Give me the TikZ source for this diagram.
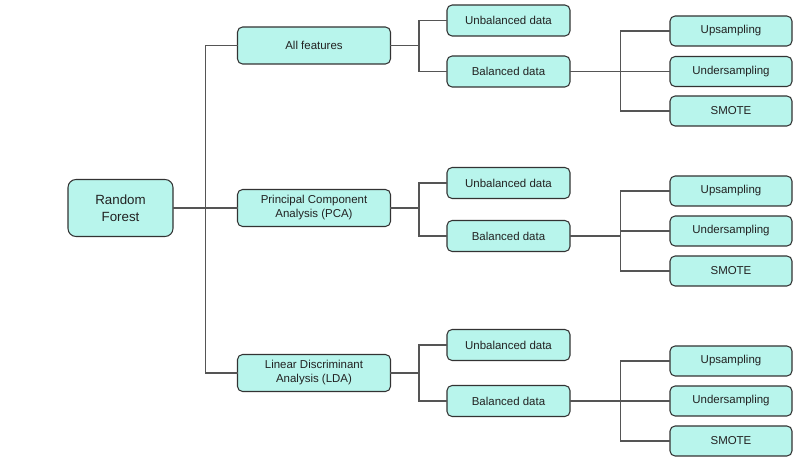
\documentclass[tikz,border=0pt]{standalone}
\usepackage{fontspec}
\setmainfont{Liberation Sans}
\definecolor{boxfill}{HTML}{B8F5EC}
\definecolor{boxline}{HTML}{333333}
\definecolor{wire}{HTML}{555555}
\definecolor{ink}{HTML}{222222}
\tikzset{
  box/.style={draw=boxline, fill=boxfill, line width=0.8pt, rounded corners=3.8pt,
    inner sep=0pt, align=center, text=ink, font=\fontsize{8.6}{10.5}\selectfont},
  rootbox/.style={box, minimum width=78.75pt, minimum height=42.75pt, rounded corners=6pt,
    font=\fontsize{10}{12.5}\selectfont},
  featbox/.style={box, minimum width=114.75pt, minimum height=27.75pt},
  databox/.style={box, minimum width=92.25pt, minimum height=23.25pt},
  sampbox/.style={box, minimum width=91.5pt, minimum height=22.5pt},
  conn/.style={draw=wire, line width=1.2pt, line cap=rect}
}
\begin{document}
\begin{tikzpicture}[x=0.75pt, y=-0.75pt]
\useasboundingbox (0,0) rectangle (800,466);

% root
\node[rootbox] (rf) at (120.5,208) {Random\\Forest};

% feature sets
\node[featbox] (af)  at (314,45.5) {All features};
\node[featbox] (pca) at (314,208)  {Principal Component\\Analysis (PCA)};
\node[featbox] (lda) at (314,373)  {Linear Discriminant\\Analysis (LDA)};

% data variants
\node[databox] (u1) at (508.5,20.5) {Unbalanced data};
\node[databox] (b1) at (508.5,71.5) {Balanced data};
\node[databox] (u2) at (508.5,183)  {Unbalanced data};
\node[databox] (b2) at (508.5,236)  {Balanced data};
\node[databox] (u3) at (508.5,345)  {Unbalanced data};
\node[databox] (b3) at (508.5,401)  {Balanced data};

% resampling methods
\node[sampbox] (up1) at (731,31)   {Upsampling};
\node[sampbox] (dn1) at (731,71.5) {Undersampling};
\node[sampbox] (sm1) at (731,111)  {SMOTE};
\node[sampbox] (up2) at (731,191)  {Upsampling};
\node[sampbox] (dn2) at (731,231)  {Undersampling};
\node[sampbox] (sm2) at (731,271)  {SMOTE};
\node[sampbox] (up3) at (731,361)  {Upsampling};
\node[sampbox] (dn3) at (731,401)  {Undersampling};
\node[sampbox] (sm3) at (731,441)  {SMOTE};

% root to feature sets
\draw[conn] (rf.east) -- ++(32,0) coordinate (jr);
\draw[conn] (jr) |- (af.west);
\draw[conn] (jr) |- (lda.west);
\draw[conn] (jr) -- (pca.west);

% feature sets to data variants
\foreach \f/\u/\b in {af/u1/b1, pca/u2/b2, lda/u3/b3}{
  \draw[conn] (\f.east) -- ++(28,0) coordinate (jf);
  \draw[conn] (jf) |- (\u.west);
  \draw[conn] (jf) |- (\b.west);
}

% balanced data to resampling methods
\foreach \b/\p/\q/\r in {b1/up1/dn1/sm1, b2/up2/dn2/sm2, b3/up3/dn3/sm3}{
  \draw[conn] (\b.east) -- ++(50,0) coordinate (jb);
  \draw[conn] (jb) |- (\p.west);
  \draw[conn] (jb) |- (\q.west);
  \draw[conn] (jb) |- (\r.west);
}
\end{tikzpicture}
\end{document}
